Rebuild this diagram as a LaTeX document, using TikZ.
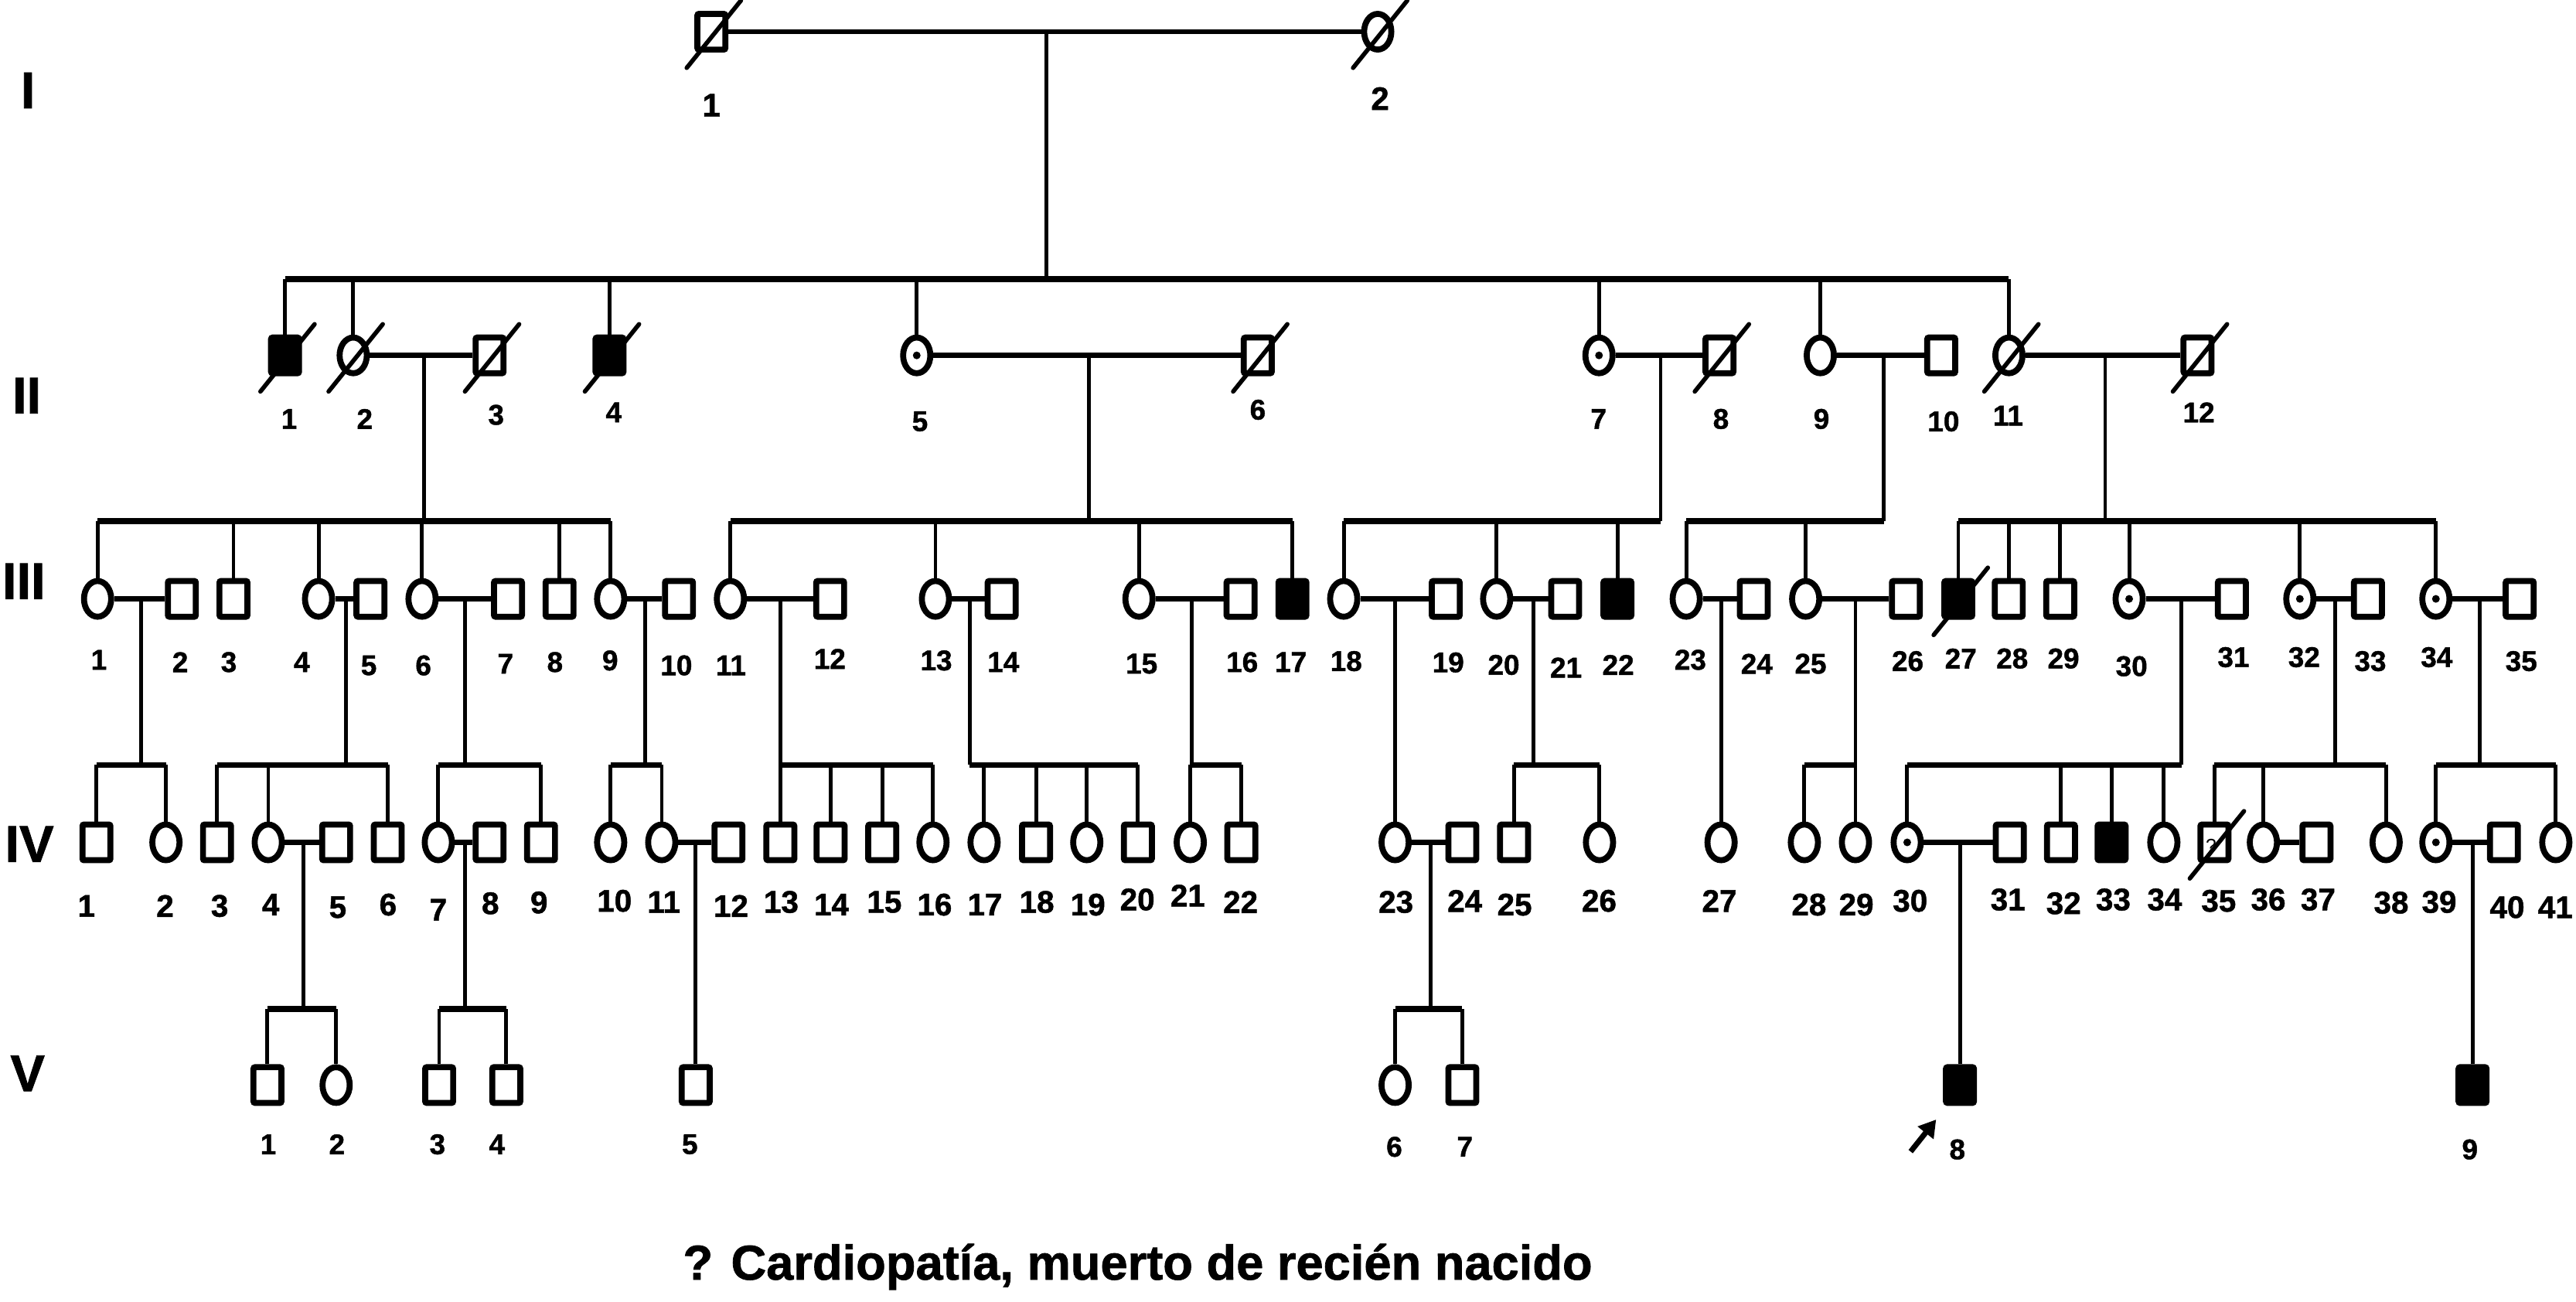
\documentclass[tikz,border=0pt]{standalone}
\usepackage{fontspec}
\setmainfont{Liberation Sans}
\newfontface\labfont{Liberation Sans Bold}[FakeBold=1.2]
\usetikzlibrary{shapes.geometric,arrows.meta}
\tikzset{
  sym/.style={draw=black,line width=2.2pt,inner sep=0pt,minimum width=0.362cm,minimum height=0.462cm},
  male/.style={sym,rectangle,rounded corners=0.6pt},
  maff/.style={male,fill=black},
  fem/.style={sym,ellipse,minimum width=0.352cm},
  fcar/.style={fem,path picture={\fill (path picture bounding box.center) circle (0.05cm);}},
  lin/.style={draw=black,line width=1.4pt},
  sib/.style={draw=black,line width=2.2pt},
  mar/.style={draw=black,line width=1.9pt},
  slash/.style={draw=black,line width=1.6pt,line cap=round},
  num/.style={font=\labfont\fontsize{10.5}{12}\selectfont,inner sep=0pt},
  numiv/.style={font=\labfont\fontsize{11.5}{13}\selectfont,inner sep=0pt},
  gen/.style={font=\labfont\fontsize{19}{22}\selectfont,inner sep=0pt},
}
\tikzset{proband/.style={draw=black,line width=2pt,-{Triangle[length=0.22cm,width=0.25cm]}}}

\begin{document}
\begin{tikzpicture}[x=0.02125cm,y=-0.02125cm]
\useasboundingbox (0,0) rectangle (1568,792);

% generation numerals
\node[gen] (gI) at (17,55) {I};
\node[gen] (gII) at (16.3,240.8) {II};
\node[gen] (gIII) at (14.5,353.8) {III};
\node[gen] (gIV) at (17.9,513.7) {IV};
\node[gen] (gV) at (16.8,653.3) {V};

% generation I
\node[male] (i1) at (433,19.3) {};
\node[fem] (i2) at (838.6,19.3) {};
\node[num,font=\labfont\fontsize{12}{13}\selectfont] (li1) at (433,64) {1};
\node[num,font=\labfont\fontsize{12}{13}\selectfont] (li2) at (840,60) {2};
\draw[mar] (i1) -- (i2);
\coordinate (dI) at (637,170);
\draw[lin] (dI) -- (dI |- i1.center);

% generation II
\foreach \k/\s/\x/\lx/\ly in {1/maff/173.5/176/255, 2/fem/215/222/255, 3/male/298/302/252.5,
  4/maff/371/373.6/251, 5/fcar/558/560/256.5, 6/male/765.6/765.6/249.4, 7/fcar/973.3/973/255,
  8/male/1046.6/1047.5/255, 9/fem/1108/1108.7/255, 10/male/1181.6/1183/256.5,
  11/fem/1222.8/1222.3/253, 12/male/1337.6/1338.4/251}{
  \node[\s] (ii\k) at (\x,216.3) {};
  \node[num] (lii\k) at (\lx,\ly) {\k};
}
\draw[sib] (ii1.north |- dI) -- (ii11.north |- dI);
\foreach \c in {ii1,ii2,ii4,ii5,ii7,ii9,ii11}
  \draw[lin] (\c.north) -- (\c.north |- dI);
\foreach \a/\b in {ii2/ii3,ii5/ii6,ii7/ii8,ii9/ii10,ii11/ii12}
  \draw[mar] (\a) -- (\b);
\coordinate (e23) at (258,317.3);
\coordinate (e56) at (663,317.3);
\coordinate (e78) at (1010.8,317.3);
\coordinate (e910) at (1146.6,317.3);
\coordinate (e1112) at (1281.4,317.3);
\foreach \e/\p in {e23/ii2,e56/ii5,e78/ii7,e910/ii9,e1112/ii11}
  \draw[lin] (\e) -- (\e |- \p.center);

% generation III
\foreach \k/\s/\x/\lx/\ly in {1/fem/59.4/60.2/401.6, 2/male/110.7/109.7/403, 3/male/142.1/139.3/403,
  4/fem/193.9/183.7/403, 5/male/225.5/224.5/405, 6/fem/256.9/257.7/405, 7/male/309.2/307.7/404,
  8/male/340.6/337.8/403, 9/fem/371.7/371.4/402, 10/male/413.3/411.7/405, 11/fem/444.6/444.9/405,
  12/male/505.3/505.1/401, 13/fem/569.4/569.9/402, 14/male/609.7/610.7/403, 15/fem/693.3/694.9/404,
  16/male/755.1/756.1/403, 17/maff/786.7/785.7/403, 18/fem/817.9/819.4/402.4, 19/male/880/881.5/403.2,
  20/fem/911/915.3/404.7, 21/male/952.7/953.2/406.3, 22/maff/984.5/985/404.7, 23/fem/1026.4/1028.9/401.6,
  24/male/1067.5/1069.3/404, 25/fem/1099.1/1102.1/404, 26/male/1160.1/1161.2/402.4,
  27/maff/1192/1193.5/400.8, 28/male/1222.7/1224.8/400.8, 29/male/1254/1256/400.8,
  30/fcar/1296/1297.5/405.5, 31/male/1358.5/1359.5/400, 32/fcar/1399.9/1402.5/400,
  33/male/1441.3/1442.8/402.4, 34/fcar/1482.7/1483.2/400, 35/male/1533.7/1534.7/402.4}{
  \node[\s] (iii\k) at (\x,364.5) {};
  \node[num] (liii\k) at (\lx,\ly) {\k};
}
\draw[sib] (iii1.north |- e23) -- (iii9.north |- e23);
\draw[sib] (iii11.north |- e56) -- (iii17.north |- e56);
\draw[sib] (iii18.north |- e78) -- (e78);
\draw[sib] (iii23.north |- e910) -- (e910);
\draw[sib] (iii27.north |- e1112) -- (iii34.north |- e1112);
\foreach \c/\e in {iii1/e23,iii3/e23,iii4/e23,iii6/e23,iii8/e23,iii9/e23,
  iii11/e56,iii13/e56,iii15/e56,iii17/e56,iii18/e78,iii20/e78,iii22/e78,iii23/e910,iii25/e910,
  iii27/e1112,iii28/e1112,iii29/e1112,iii30/e1112,iii32/e1112,iii34/e1112}
  \draw[lin] (\c.north) -- (\c.north |- \e);
\foreach \a/\b in {iii1/iii2,iii4/iii5,iii6/iii7,iii9/iii10,iii11/iii12,iii13/iii14,iii15/iii16,
  iii18/iii19,iii20/iii21,iii23/iii24,iii25/iii26,iii30/iii31,iii32/iii33,iii34/iii35}
  \draw[mar] (\a) -- (\b);
\coordinate (f12) at (85.8,465.6);
\coordinate (f45) at (210.7,465.6);
\coordinate (f67) at (283.2,465.6);
\coordinate (f910) at (392.8,465.6);
\coordinate (f1112) at (475,465.6);
\coordinate (f1314) at (590.3,465.6);
\coordinate (f1516) at (725.5,465.6);
\coordinate (f2021) at (933.5,465.6);
\coordinate (f2526) at (1129.4,465.6);
\coordinate (f3031) at (1327.8,465.6);
\coordinate (f3233) at (1421.6,465.6);
\coordinate (f3435) at (1509.5,465.6);
\foreach \f/\p in {f12/iii1,f45/iii4,f67/iii6,f910/iii9,f1112/iii11,f1314/iii13,f1516/iii15,
  f2021/iii20,f2526/iii25,f3031/iii30,f3233/iii32,f3435/iii34}
  \draw[lin] (\f) -- (\f |- \p.center);

% generation IV
\foreach \k/\s/\x/\lx/\ly in {1/male/58.7/52.6/551.4, 2/fem/101/100.5/551.4, 3/male/132.1/133.7/551.4,
  4/fem/163.3/164.8/550.6, 5/male/204.6/205.6/552.2, 6/male/236/236.2/550.6, 7/fem/266.8/266.8/553.7,
  8/male/298/298.5/549.8, 9/male/329.3/328.1/549.3, 10/fem/371.7/374/548.3, 11/fem/402.8/404.1/549,
  12/male/443.4/444.9/551.4, 13/male/475/475.5/549, 14/male/505.6/506.1/550.6, 15/male/537/538.3/549,
  16/fem/567.9/568.9/550.6, 17/fem/599/599.5/550.6, 18/male/630.6/631.1/549, 19/fem/661.5/662.2/550.6,
  20/male/692.6/692.3/547.5, 21/fem/724.5/723/545.1, 22/male/755.6/755.1/549, 23/fem/849.2/849.7/549,
  24/male/890.1/891.6/548.3, 25/male/921.6/921.9/550.6, 26/fem/973.6/973.4/548.3,
  27/fem/1047.6/1046.6/548.3, 28/fem/1098.3/1101.1/550.6, 29/fem/1129.4/1129.9/550.6,
  30/fcar/1160.9/1162.7/548.3, 31/male/1223.3/1222.2/547.5, 32/male/1254.5/1256.1/549.8,
  33/maff/1285.3/1286.3/547.5, 34/fem/1317.1/1317.6/547.5, 35/male/1347.9/1350.5/548.3,
  36/fem/1377.7/1380.7/547.5, 37/male/1410/1411/547.5, 38/fem/1452.4/1455.5/549.4,
  39/fcar/1482.7/1484.7/549, 40/male/1524.1/1526.1/552.2, 41/fem/1555.7/1555.4/552.2}{
  \node[\s] (iv\k) at (\x,512.7) {};
  \node[numiv] (liv\k) at (\lx,\ly) {\k};
}
\node[font=\fontsize{7}{7}\selectfont,inner sep=0pt] (q35) at ([shift={(-2,2)}]iv35.center) {?};
\draw[lin] (iv23.north) -- (iv23.north |- iii18.center);
\draw[lin] (iv27.north) -- (iv27.north |- iii23.center);
\draw[sib] (iv1.north |- f12) -- (iv2.north |- f12);
\draw[sib] (iv3.north |- f45) -- (iv6.north |- f45);
\draw[sib] (iv7.north |- f67) -- (iv9.north |- f67);
\draw[sib] (iv10.north |- f910) -- (iv11.north |- f910);
\draw[sib] (f1112) -- (iv16.north |- f1112);
\draw[sib] (f1314) -- (iv20.north |- f1314);
\draw[sib] (iv21.north |- f1516) -- (iv22.north |- f1516);
\draw[sib] (iv25.north |- f2021) -- (iv26.north |- f2021);
\draw[sib] (iv28.north |- f2526) -- (f2526);
\draw[sib] (iv30.north |- f3031) -- (f3031);
\draw[sib] (iv35.north |- f3233) -- (iv38.north |- f3233);
\draw[sib] (iv39.north |- f3435) -- (iv41.north |- f3435);
\foreach \c/\f in {iv1/f12,iv2/f12,iv3/f45,iv4/f45,iv6/f45,iv7/f67,iv9/f67,iv10/f910,iv11/f910,
  iv13/f1112,iv14/f1112,iv15/f1112,iv16/f1112,iv17/f1314,iv18/f1314,iv19/f1314,iv20/f1314,
  iv21/f1516,iv22/f1516,iv25/f2021,iv26/f2021,iv28/f2526,iv29/f2526,iv30/f3031,iv32/f3031,
  iv33/f3031,iv34/f3031,iv35/f3233,iv36/f3233,iv38/f3233,iv39/f3435,iv41/f3435}
  \draw[lin] (\c.north) -- (\c.north |- \f);
\foreach \a/\b in {iv4/iv5,iv7/iv8,iv11/iv12,iv23/iv24,iv30/iv31,iv36/iv37,iv39/iv40}
  \draw[mar] (\a) -- (\b);
\coordinate (g45) at (184.7,614.1);
\coordinate (g78) at (283.2,614.1);
\coordinate (g2324) at (870.9,614.1);
\foreach \g/\p in {g45/iv4,g78/iv7,g2324/iv23}
  \draw[lin] (\g) -- (\g |- \p.center);

% generation V
\foreach \k/\s/\x/\lx/\ly in {1/male/162.8/163.3/696.5, 2/fem/204.6/205.1/696.5, 3/male/267.3/266.3/696.5,
  4/male/308.2/302.5/696.5, 5/male/423.5/419.9/696.5, 6/fem/849.2/848.7/698, 7/male/890.1/891.6/698,
  8/maff/1193/1191.4/699.6, 9/maff/1505/1503.4/699.6}{
  \node[\s] (v\k) at (\x,660.4) {};
  \node[num] (lv\k) at (\lx,\ly) {\k};
}
\draw[sib] (v1.north |- g45) -- (v2.north |- g45);
\draw[sib] (v3.north |- g78) -- (v4.north |- g78);
\draw[sib] (v6.north |- g2324) -- (v7.north |- g2324);
\foreach \c/\g in {v1/g45,v2/g45,v3/g78,v4/g78,v6/g2324,v7/g2324}
  \draw[lin] (\c.north) -- (\c.north |- \g);
\draw[lin] (v5.north) -- (v5.north |- iv11.center);
\draw[lin] (v8.north) -- (v8.north |- iv30.center);
\draw[lin] (v9.north) -- (v9.north |- iv39.center);

% deceased
\foreach \n in {i1,i2,ii1,ii2,ii3,ii4,ii6,ii8,ii11,ii12,iii27,iv35}
  \draw[slash] ([shift={(-15,22)}]\n.center) -- ([shift={(18,-19)}]\n.center);

% proband
\draw[proband] ([shift={(-30,40.5)}]v8.center) -- ([shift={(-14.5,21)}]v8.center);

\node[font=\labfont\fontsize{18}{21}\selectfont,inner sep=0pt] (note) at (692.5,771) {? Cardiopatía, muerto de recién nacido};
\end{tikzpicture}
\end{document}
